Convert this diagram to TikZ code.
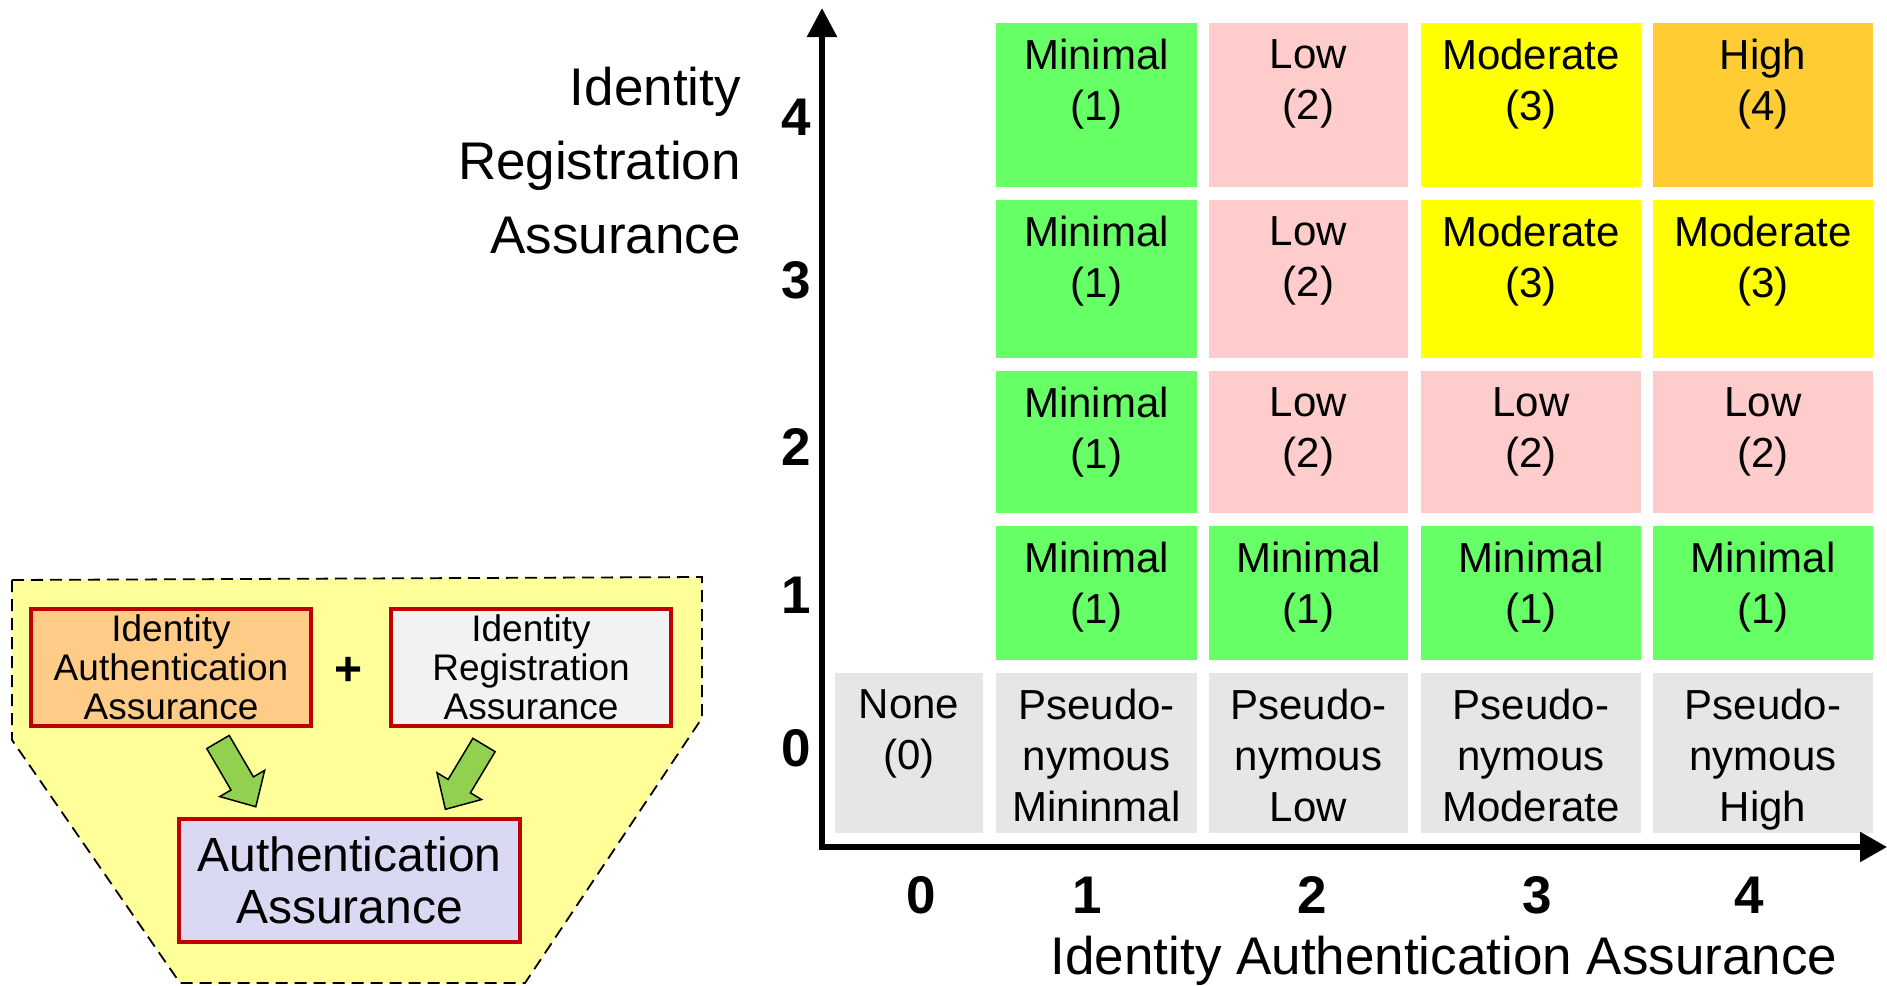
\documentclass[tikz,border=0pt]{standalone}
\usepackage{fontspec}
\setmainfont{Liberation Sans}
\usetikzlibrary{arrows.meta}

\definecolor{cellgreen}{HTML}{66FF66}
\definecolor{cellpink}{HTML}{FFCCCC}
\definecolor{cellyellow}{HTML}{FFFF00}
\definecolor{cellorange}{HTML}{FFCC33}
\definecolor{cellgray}{HTML}{E6E6E6}
\definecolor{panelyellow}{HTML}{FFFF99}
\definecolor{boxred}{HTML}{C00000}
\definecolor{boxorange}{HTML}{FFCC88}
\definecolor{boxgray}{HTML}{F2F2F2}
\definecolor{boxlavender}{HTML}{D9D9F3}
\definecolor{arrowgreen}{HTML}{92D050}

\tikzset{
  cellbox/.style={rectangle, inner sep=0pt, outer sep=0pt, draw=none},
  celltext/.style={inner sep=0pt, align=center, anchor=north,
    font=\fontsize{42pt}{51pt}\selectfont},
  axistitle/.style={inner sep=0pt, font=\fontsize{53pt}{74pt}\selectfont},
  axisnum/.style={inner sep=0pt, anchor=base,
    font=\fontsize{53pt}{60pt}\selectfont\bfseries},
  axisline/.style={line width=5.5pt, line join=miter,
    arrows={Triangle[length=29pt,width=29pt]-Triangle[length=27pt,width=29pt]}},
  panel/.style={fill=panelyellow, draw=black, line width=1.8pt,
    dash pattern=on 12pt off 7pt},
  srcbox/.style={rectangle, draw=boxred, line width=4pt, inner sep=0pt,
    align=center, minimum width=280pt, minimum height=117pt,
    font=\fontsize{37pt}{39pt}\selectfont},
  resultbox/.style={srcbox, fill=boxlavender, minimum width=341pt,
    minimum height=123pt, font=\fontsize{48pt}{52pt}\selectfont},
  flowarrow/.style={fill=arrowgreen, draw=black, line width=1.5pt,
    line join=miter},
}

% grid cell: name, left, top, right, bottom, fill colour, text
\newcommand\cellnode[7]{%
  \node[cellbox, fill=#6, anchor=north west,
        minimum width={#4pt-#2pt}, minimum height={#5pt-#3pt}] (#1) at (#2,#3) {};
  \node[celltext] (#1-text) at ({(#2+#4)/2},{#3+16}) {#7};%
}

\begin{document}
\begin{tikzpicture}[x=1pt, y=-1pt]
\useasboundingbox (0,0) rectangle (1887,985);

% ---------- assurance matrix ----------
% row 4
\cellnode{c41}{996}{23}{1197}{187}{cellgreen}{Minimal\\(1)}
\cellnode{c42}{1209}{23}{1408}{187}{cellpink}{Low\\(2)}
\cellnode{c43}{1421}{23}{1641}{187}{cellyellow}{Moderate\\(3)}
\cellnode{c44}{1653}{23}{1873}{187}{cellorange}{High\\(4)}
% row 3
\cellnode{c31}{996}{200}{1197}{358}{cellgreen}{Minimal\\(1)}
\cellnode{c32}{1209}{200}{1408}{358}{cellpink}{Low\\(2)}
\cellnode{c33}{1421}{200}{1641}{358}{cellyellow}{Moderate\\(3)}
\cellnode{c34}{1653}{200}{1873}{358}{cellyellow}{Moderate\\(3)}
% row 2
\cellnode{c21}{996}{371}{1197}{513}{cellgreen}{Minimal\\(1)}
\cellnode{c22}{1209}{371}{1408}{513}{cellpink}{Low\\(2)}
\cellnode{c23}{1421}{371}{1641}{513}{cellpink}{Low\\(2)}
\cellnode{c24}{1653}{371}{1873}{513}{cellpink}{Low\\(2)}
% row 1
\cellnode{c11}{996}{526}{1197}{660}{cellgreen}{Minimal\\(1)}
\cellnode{c12}{1209}{526}{1408}{660}{cellgreen}{Minimal\\(1)}
\cellnode{c13}{1421}{526}{1641}{660}{cellgreen}{Minimal\\(1)}
\cellnode{c14}{1653}{526}{1873}{660}{cellgreen}{Minimal\\(1)}
% row 0
\cellnode{c00}{835}{673}{983}{833}{cellgray}{None\\(0)}
\cellnode{c01}{996}{673}{1197}{833}{cellgray}{Pseudo-\\nymous\\Mininmal}
\cellnode{c02}{1209}{673}{1408}{833}{cellgray}{Pseudo-\\nymous\\Low}
\cellnode{c03}{1421}{673}{1641}{833}{cellgray}{Pseudo-\\nymous\\Moderate}
\cellnode{c04}{1653}{673}{1873}{833}{cellgray}{Pseudo-\\nymous\\High}

% ---------- axes ----------
\coordinate (origin) at (822,847);
\coordinate (ytip) at (822,8);
\coordinate (xtip) at (1887,847);
\draw[axisline] (ytip) -- (origin) -- (xtip);

% vertical scale and title
\node[axisnum] (y4) at (796,135) {4};
\node[axisnum] (y3) at (796,298) {3};
\node[axisnum] (y2) at (796,465) {2};
\node[axisnum] (y1) at (796,613) {1};
\node[axisnum] (y0) at (796,766) {0};
\node[axistitle, align=right, anchor=north east] (ytitle) at (741,67)
  {Identity\\Registration\\Assurance};

% horizontal scale and title
\node[axisnum] (x0) at (921,913) {0};
\node[axisnum] (x1) at (1087,913) {1};
\node[axisnum] (x2) at (1312,913) {2};
\node[axisnum] (x3) at (1537,913) {3};
\node[axisnum] (x4) at (1749,913) {4};
\node[axistitle, anchor=base] (xtitle) at (1444,974)
  {Identity Authentication Assurance};

% ---------- composition panel ----------
\draw[panel] (12,580) -- (702,577) -- (702,718) -- (525,983)
  -- (180,983) -- (12,740) -- cycle;

\node[srcbox, fill=boxorange] (iaa) at (171,667.5)
  {Identity\\Authentication\\Assurance};
\node[srcbox, fill=boxgray] (ira) at (531,667.5)
  {Identity\\Registration\\Assurance};
\node[inner sep=0pt, font=\fontsize{48pt}{50pt}\selectfont\bfseries] (plus)
  at (349,671) {+};
\node[resultbox] (aa) at (349.5,880.5) {Authentication\\Assurance};

% block arrows feeding the combined assurance
\draw[flowarrow, shift={(218,742)}, rotate=-59.7]
  (0,-13) -- (48,-13) -- (48,-26) -- (75,0) -- (48,26) -- (48,13) -- (0,13) -- cycle;
\draw[flowarrow, shift={(484,745)}, rotate=-121]
  (0,-13) -- (48,-13) -- (48,-26) -- (75,0) -- (48,26) -- (48,13) -- (0,13) -- cycle;

\end{tikzpicture}
\end{document}
